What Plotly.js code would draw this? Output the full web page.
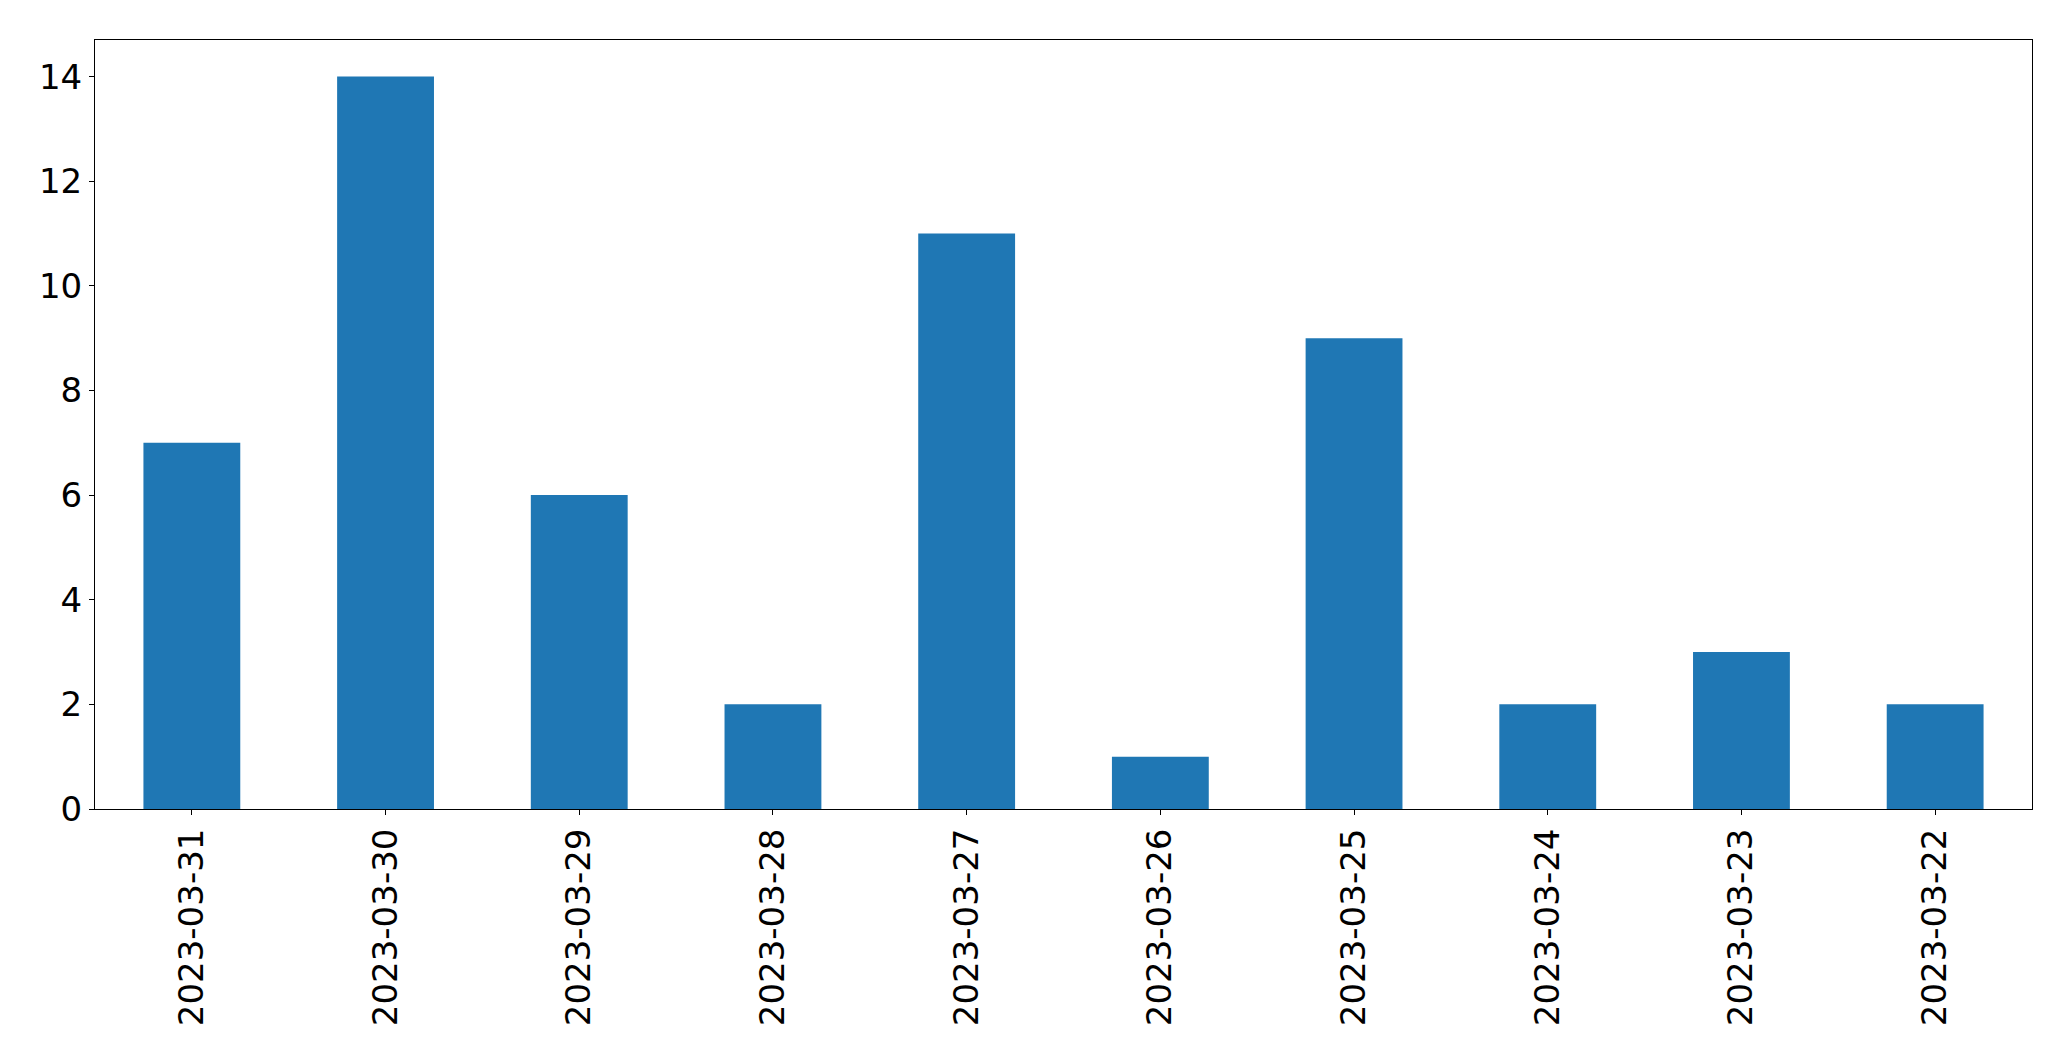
<!DOCTYPE html>
<html>
<head>
<meta charset="utf-8">
<script src="https://cdn.plot.ly/plotly-3.0.1.min.js"></script>
<style>html,body{margin:0;padding:0;background:#fff;}#chart{width:2071px;height:1061px;}</style>
</head>
<body>
<div id="chart"></div>
<script>
const categories = ["2023-03-31","2023-03-30","2023-03-29","2023-03-28","2023-03-27","2023-03-26","2023-03-25","2023-03-24","2023-03-23","2023-03-22"];
const counts = [7,14,6,2,11,1,9,2,3,2];
const yTicks = [0,2,4,6,8,10,12,14];

const trace = {
  type: 'bar',
  x: categories,
  y: counts,
  width: 0.5,
  marker: {color: '#1f77b4', line: {width: 0}},
  hoverinfo: 'x+y'
};

const layout = {
  width: 2071,
  height: 1061,
  margin: {l: 94.5, r: 38.5, t: 39.5, b: 252, pad: 0},
  paper_bgcolor: '#ffffff',
  plot_bgcolor: '#ffffff',
  showlegend: false,
  font: {family: 'DejaVu Sans', size: 34, color: '#000000'},
  xaxis: {
    type: 'category',
    range: [-0.5, 9.5],
    tickangle: -90,
    ticks: 'outside',
    ticklen: 5,
    tickwidth: 1,
    tickcolor: '#000',
    showline: true,
    linecolor: '#000',
    linewidth: 1,
    mirror: true,
    showgrid: false,
    zeroline: false,
    tickfont: {family: 'DejaVu Sans', size: 34, color: '#000'}
  },
  yaxis: {
    range: [0, 14.7],
    tickvals: yTicks,
    ticktext: yTicks.map(String),
    ticks: 'outside',
    ticklen: 5,
    tickwidth: 1,
    tickcolor: '#000',
    showline: true,
    linecolor: '#000',
    linewidth: 1,
    mirror: true,
    showgrid: false,
    zeroline: false,
    tickfont: {family: 'DejaVu Sans', size: 34, color: '#000'}
  }
};

Plotly.newPlot('chart', [trace], layout, {displayModeBar: false, staticPlot: true});
</script>
</body>
</html>
